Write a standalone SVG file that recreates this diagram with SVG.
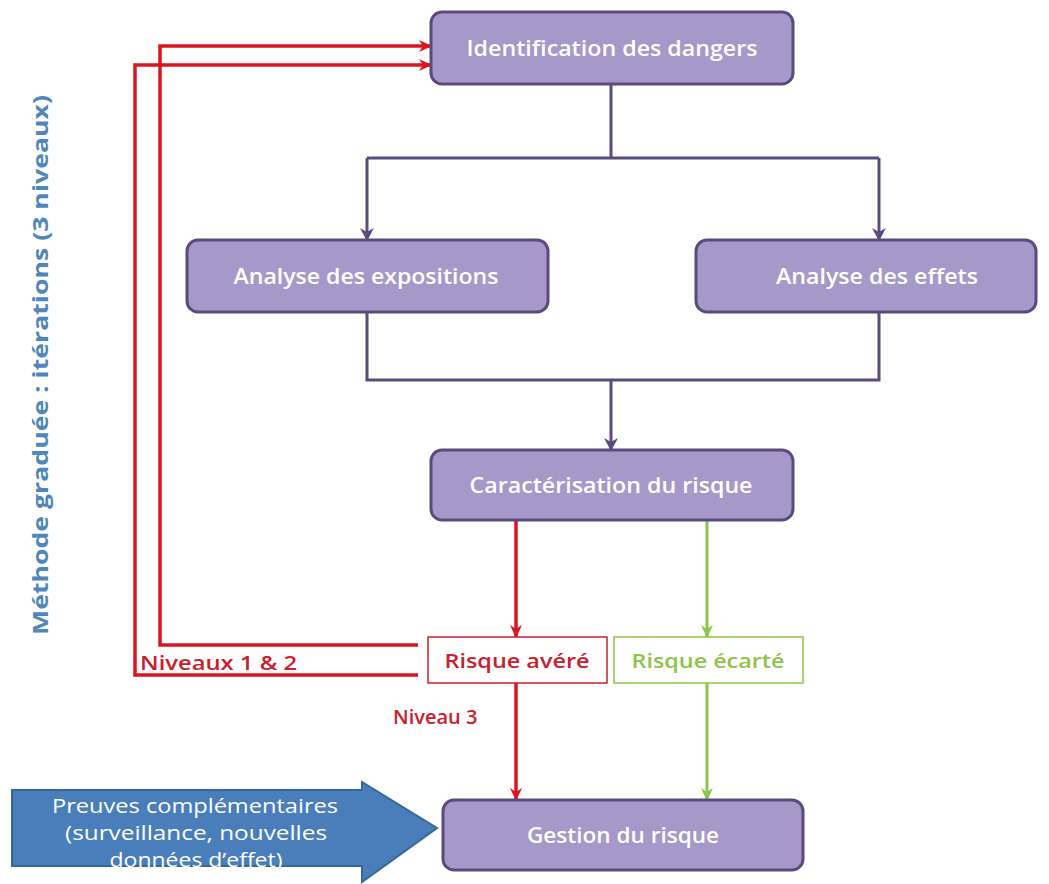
<svg xmlns="http://www.w3.org/2000/svg" width="1049" height="884" viewBox="0 0 1049 884">
  <style>
    .box { fill: #a699c9; stroke: #5a4b7d; stroke-width: 3; }
    .lbl { fill: #ffffff; font-family: "Open Sans", "DejaVu Sans", sans-serif; font-weight: 600; font-size: 21px; text-anchor: middle; }
    .pur { fill: none; stroke: #5a4b7d; stroke-width: 3; }
    .red { fill: none; stroke: #dc1420; stroke-width: 3.5; }
    .grn { fill: none; stroke: #8dc44a; stroke-width: 3; }
    .rtxt { fill: #c8202c; font-family: "Open Sans", "DejaVu Sans", sans-serif; font-weight: 600; font-size: 20px; }
    .ptxt { fill: #ffffff; font-family: "Open Sans", "DejaVu Sans", sans-serif; font-size: 20px; text-anchor: middle; }
  </style>
  <defs>
    <marker id="ahP" markerWidth="14" markerHeight="14" refX="12" refY="7" orient="auto" markerUnits="userSpaceOnUse">
      <path d="M0,0 L13,7 L0,14 L4,7 Z" fill="#5a4b7d"/>
    </marker>
    <marker id="ahR" markerWidth="14" markerHeight="14" refX="12" refY="7" orient="auto" markerUnits="userSpaceOnUse">
      <path d="M0,1 L13,7 L0,13 L4,7 Z" fill="#dc1420"/>
    </marker>
    <marker id="ahG" markerWidth="14" markerHeight="14" refX="12" refY="7" orient="auto" markerUnits="userSpaceOnUse">
      <path d="M0,1 L13,7 L0,13 L4,7 Z" fill="#8dc44a"/>
    </marker>
  </defs>
  <rect width="1049" height="884" fill="#ffffff"/>

  <!-- vertical side title -->
  <text transform="translate(48,365) rotate(-90)" text-anchor="middle" fill="#4f87bd" font-family="Open Sans, DejaVu Sans, sans-serif" font-weight="700" font-size="22" textLength="540" lengthAdjust="spacingAndGlyphs">Méthode graduée : itérations (3 niveaux)</text>

  <g id="connectors">
    <!-- purple flow -->
    <path class="pur" d="M611,84 V158 M367,158 H879 M367,158 V240" marker-end="url(#ahP)"/>
    <path class="pur" d="M879,158 V240" marker-end="url(#ahP)"/>
    <path class="pur" d="M367,312 V380 H879 V312"/>
    <path class="pur" d="M611,380 V450" marker-end="url(#ahP)"/>
    <!-- outcome branches -->
    <path class="red" d="M516,520 V637" marker-end="url(#ahR)"/>
    <path class="grn" d="M707,520 V637" marker-end="url(#ahG)"/>
    <path class="red" d="M516,683 V800" marker-end="url(#ahR)"/>
    <path class="grn" d="M707,683 V800" marker-end="url(#ahG)"/>
    <!-- iteration loops -->
    <path class="red" d="M418,645 H160 V46 H431" marker-end="url(#ahR)"/>
    <path class="red" d="M418,675 H135 V65 H431" marker-end="url(#ahR)"/>
  </g>

  <g id="n-identification">
    <rect class="box" x="431" y="12" width="362" height="72" rx="11"/>
    <text class="lbl" x="612" y="56" textLength="291" lengthAdjust="spacingAndGlyphs">Identification des dangers</text>
  </g>
  <g id="n-expositions">
    <rect class="box" x="187" y="240" width="361" height="72" rx="11"/>
    <text class="lbl" x="366" y="284" textLength="265" lengthAdjust="spacingAndGlyphs">Analyse des expositions</text>
  </g>
  <g id="n-effets">
    <rect class="box" x="696" y="240" width="340" height="72" rx="11"/>
    <text class="lbl" x="877" y="284" textLength="202" lengthAdjust="spacingAndGlyphs">Analyse des effets</text>
  </g>
  <g id="n-caracterisation">
    <rect class="box" x="431" y="450" width="362" height="70" rx="11"/>
    <text class="lbl" x="611" y="493" textLength="283" lengthAdjust="spacingAndGlyphs">Caractérisation du risque</text>
  </g>
  <g id="n-avere">
    <rect x="428" y="637" width="179" height="46" fill="#ffffff" stroke="#c8202c" stroke-width="1.5"/>
    <text class="rtxt" x="517" y="668" text-anchor="middle" textLength="145" lengthAdjust="spacingAndGlyphs">Risque avéré</text>
  </g>
  <g id="n-ecarte">
    <rect x="614" y="637" width="189" height="46" fill="#ffffff" stroke="#8dc44a" stroke-width="1.5"/>
    <text x="708" y="668" text-anchor="middle" fill="#8dc44a" font-family="Open Sans, DejaVu Sans, sans-serif" font-weight="600" font-size="20" textLength="153" lengthAdjust="spacingAndGlyphs">Risque écarté</text>
  </g>
  <g id="n-gestion">
    <rect class="box" x="443" y="800" width="360" height="70" rx="11"/>
    <text class="lbl" x="623" y="843" textLength="192" lengthAdjust="spacingAndGlyphs">Gestion du risque</text>
  </g>

  <g id="l-niveaux12">
    <text class="rtxt" x="140" y="670" textLength="157" lengthAdjust="spacingAndGlyphs">Niveaux 1 &amp; 2</text>
  </g>
  <g id="l-niveau3">
    <text class="rtxt" x="393" y="724">Niveau 3</text>
  </g>

  <g id="n-preuves">
    <path d="M12,790 H362 V782 L437,828 L362,882 V866 H12 Z" fill="#4a7ebb" stroke="#36699b" stroke-width="2"/>
    <text class="ptxt" x="195" y="813" textLength="286" lengthAdjust="spacingAndGlyphs">Preuves complémentaires</text>
    <text class="ptxt" x="196" y="840" textLength="262" lengthAdjust="spacingAndGlyphs">(surveillance, nouvelles</text>
    <text class="ptxt" x="196" y="867" textLength="173" lengthAdjust="spacingAndGlyphs">données d’effet)</text>
  </g>
</svg>
